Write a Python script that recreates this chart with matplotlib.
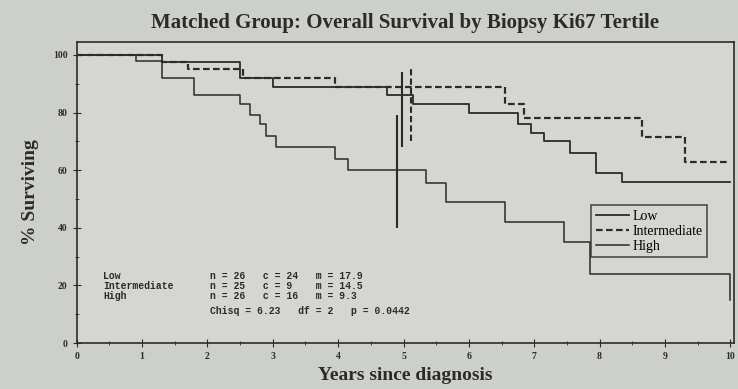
import matplotlib
matplotlib.use('Agg')
from matplotlib import pyplot as plt
from matplotlib.ticker import MultipleLocator

# Kaplan-Meier step data (years, % surviving)
low_t = [0, 1.3, 2.5, 3.0, 4.75, 5.15, 6.0, 6.75, 6.95, 7.15, 7.55, 7.95, 8.35, 10]
low_s = [100, 97.5, 92, 89, 86, 83, 80, 76, 73, 70, 66, 59, 56, 56]

inter_t = [0, 1.3, 1.7, 2.55, 3.95, 6.55, 6.85, 8.65, 9.3, 10]
inter_s = [100, 97.5, 95, 92, 89, 83, 78, 71.5, 63, 63]

high_t = [0, 0.9, 1.3, 1.8, 2.5, 2.65, 2.8, 2.9, 3.05, 3.95, 4.15, 5.35, 5.65,
          6.55, 7.45, 7.85, 10]
high_s = [100, 98, 92, 86, 83, 79, 76, 72, 68, 64, 60, 55.5, 49, 42, 35, 24, 15]

# 5-year confidence bars
ci_x = [4.98, 5.12, 4.9]
ci_lo = [68, 70, 40]
ci_hi = [94, 96, 79]

stats_names = ['Low', 'Intermediate', 'High']
stats_rows = ['n = 26   c = 24   m = 17.9',
              'n = 25   c = 9    m = 14.5',
              'n = 26   c = 16   m = 9.3',
              'Chisq = 6.23   df = 2   p = 0.0442']

ink = '#2b2b2b'
serif = 'Liberation Serif'
mono = 'Liberation Mono'

fig = plt.figure(figsize=(7.38, 3.89), dpi=100)
fig.patch.set_facecolor('#cdd0ca')
ax = fig.add_axes([0.104, 0.118, 0.89, 0.774])
ax.set_facecolor('#d5d6d1')

ax.step(low_t, low_s, where='post', color=ink, lw=1.3, label='Low')
ax.step(inter_t, inter_s, where='post', color=ink, lw=1.6, ls=(0, (3, 1.5)),
        label='Intermediate')
ax.step(high_t, high_s, where='post', color=ink, lw=1.1, label='High')

styles = ['-', (0, (3, 1.5)), '-']
for x, lo, hi, st in zip(ci_x, ci_lo, ci_hi, styles):
    ax.vlines(x, lo, hi, color=ink, lw=1.5, ls=st)

ax.set_xlim(0, 10.05)
ax.set_ylim(0, 104.5)
ax.xaxis.set_major_locator(MultipleLocator(1))
ax.xaxis.set_minor_locator(MultipleLocator(0.5))
ax.yaxis.set_major_locator(MultipleLocator(20))
ax.yaxis.set_minor_locator(MultipleLocator(10))
ax.tick_params(which='both', direction='inout', colors=ink, labelsize=7)
ax.tick_params(which='major', length=6)
ax.tick_params(which='minor', length=3)
for s in ax.spines.values():
    s.set_color(ink)
    s.set_linewidth(1.2)
for lab in ax.get_xticklabels() + ax.get_yticklabels():
    lab.set_fontfamily(serif)
    lab.set_fontweight('bold')

ax.set_title('Matched Group: Overall Survival by Biopsy Ki67 Tertile',
             fontsize=15, fontweight='bold', family=serif, color=ink, pad=10)
ax.set_xlabel('Years since diagnosis', fontsize=14, fontweight='bold',
              family=serif, color=ink, labelpad=4)
ax.set_ylabel('% Surviving', fontsize=14, fontweight='bold', family=serif,
              color=ink, labelpad=10)

leg = ax.legend(loc='lower right', bbox_to_anchor=(0.96, 0.286),
                borderaxespad=0, frameon=True, fancybox=False,
                handlelength=2.4, handletextpad=0.3, borderpad=0.3,
                labelspacing=0.15, prop={'family': serif, 'size': 10})
leg.get_frame().set_edgecolor(ink)
leg.get_frame().set_facecolor('#d5d6d1')
leg.get_frame().set_linewidth(1.2)

# statistics block
row_y = [0.222, 0.189, 0.156, 0.108]
for name, y in zip(stats_names, row_y):
    ax.text(0.04, y, name, transform=ax.transAxes, fontsize=7,
            family=mono, fontweight='bold', color=ink, va='center')
for row, y in zip(stats_rows, row_y):
    ax.text(0.203, y, row, transform=ax.transAxes, fontsize=7,
            family=mono, fontweight='bold', color=ink, va='center')

fig.savefig('out.png', dpi=100, facecolor=fig.get_facecolor())
